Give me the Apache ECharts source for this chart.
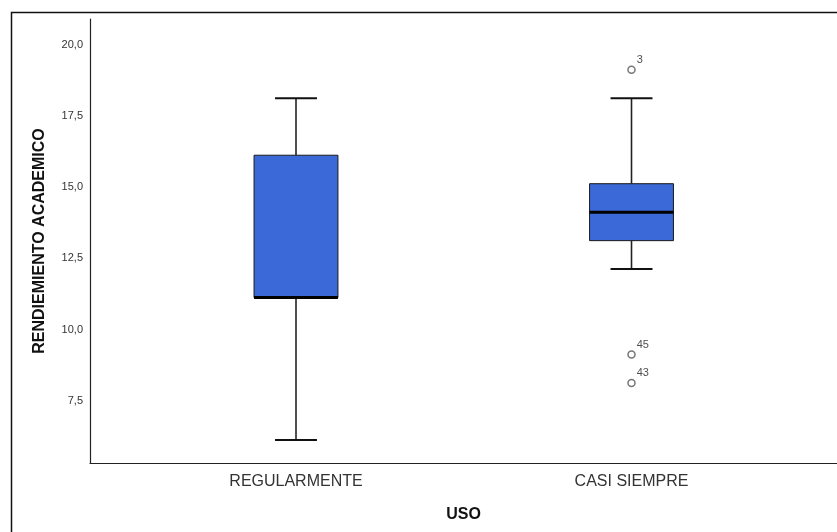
<!DOCTYPE html>
<html>
<head>
<meta charset="utf-8">
<script src="https://cdn.jsdelivr.net/npm/echarts@6/dist/echarts.min.js"></script>
<style>html,body{margin:0;padding:0;background:#fff}#c{width:837px;height:532px}</style>
</head>
<body>
<div id="c"></div>
<script>
// ---- data ----
var categories = ['REGULARMENTE', 'CASI SIEMPRE'];
var positions = [1, 2];
var whiskerLow = [6, 12];
var q1 = [11, 13];
var median = [11, 14];
var q3 = [16, 15];
var whiskerHigh = [18, 18];
var outlierCat = [2, 2, 2];
var outlierVal = [19, 9, 8];
var outlierId = ['3', '45', '43'];
var yTicks = [7.5, 10, 12.5, 15, 17.5, 20];

var FONT = 'Arial, "Liberation Sans", sans-serif';
var boxRows = positions.map(function (p, i) {
  return [p, whiskerLow[i], q1[i], median[i], q3[i], whiskerHigh[i]];
});
var outRows = outlierVal.map(function (v, i) { return [outlierCat[i], v, outlierId[i]]; });

var BOX_HALF = 0.125, CAP_HALF = 0.0625;

function renderBox(params, api) {
  var x = api.value(0);
  var lo = api.coord([x, api.value(1)]);
  var b1 = api.coord([x, api.value(2)]);
  var md = api.coord([x, api.value(3)]);
  var b3 = api.coord([x, api.value(4)]);
  var hi = api.coord([x, api.value(5)]);
  var left = api.coord([x - BOX_HALF, 0])[0];
  var right = api.coord([x + BOX_HALF, 0])[0];
  var cl = api.coord([x - CAP_HALF, 0])[0];
  var cr = api.coord([x + CAP_HALF, 0])[0];
  var cx = lo[0];
  var wStyle = { stroke: '#222', lineWidth: 1.6 };
  var capStyle = { stroke: '#111', lineWidth: 2 };
  return {
    type: 'group',
    children: [
      { type: 'line', shape: { x1: cx, y1: hi[1], x2: cx, y2: b3[1] }, style: wStyle },
      { type: 'line', shape: { x1: cx, y1: b1[1], x2: cx, y2: lo[1] }, style: wStyle },
      { type: 'line', shape: { x1: cl, y1: hi[1], x2: cr, y2: hi[1] }, style: capStyle },
      { type: 'line', shape: { x1: cl, y1: lo[1], x2: cr, y2: lo[1] }, style: capStyle },
      { type: 'rect', shape: { x: left, y: b3[1], width: right - left, height: b1[1] - b3[1] },
        style: { fill: '#3b69d7', stroke: '#1a1a1a', lineWidth: 1 } },
      { type: 'line', shape: { x1: left, y1: md[1], x2: right, y2: md[1] }, style: { stroke: '#000', lineWidth: 3 } }
    ]
  };
}

var chart = echarts.init(document.getElementById('c'), null, { renderer: 'canvas' });
chart.setOption({
  backgroundColor: '#fff',
  animation: false,
  graphic: [{
    type: 'rect', left: 9, top: 10, shape: { width: 900, height: 600 },
    style: { fill: 'none', stroke: '#111', lineWidth: 1.5 }, silent: true
  }],
  grid: { left: 90, right: 0, top: 19, bottom: 69 },
  xAxis: {
    type: 'value', min: 0.386, max: 2.6125,
    splitLine: { show: false },
    axisLine: { show: true, lineStyle: { color: '#222', width: 1.2 } },
    axisTick: { show: false },
    axisLabel: {
      customValues: positions,
      formatter: function (v) { return categories[Math.round(v) - 1] || ''; },
      color: '#333', fontFamily: FONT, fontSize: 16, margin: 11
    },
    name: 'USO', nameLocation: 'middle', nameGap: 44,
    nameTextStyle: { fontFamily: FONT, fontSize: 16, fontWeight: 'bold', color: '#111' }
  },
  yAxis: {
    type: 'value', min: 5.19, max: 20.785,
    splitLine: { show: false },
    axisLine: { show: true, lineStyle: { color: '#222', width: 1.2 } },
    axisTick: { show: false },
    axisLabel: {
      customValues: yTicks,
      formatter: function (v) { return '{t|' + v.toFixed(1).replace('.', ',') + '}'; },
      rich: { t: { color: '#333', fontFamily: FONT, fontSize: 11, padding: [7, 0, 0, 0] } },
      color: '#333', fontFamily: FONT, fontSize: 11, margin: 7
    },
    name: 'RENDIEMIENTO ACADEMICO', nameLocation: 'middle', nameGap: 42,
    nameTextStyle: { fontFamily: FONT, fontSize: 16, fontWeight: 'bold', color: '#111' }
  },
  series: [
    {
      type: 'custom', renderItem: renderBox, data: boxRows,
      encode: { x: 0, y: [1, 2, 3, 4, 5] }, silent: true
    },
    {
      type: 'scatter', data: outRows, symbol: 'circle', symbolSize: 7,
      itemStyle: { color: '#fff', borderColor: '#555', borderWidth: 1.5 },
      label: {
        show: true, position: 'right', distance: 1, offset: [0, -10],
        formatter: function (p) { return p.value[2]; },
        color: '#222', fontFamily: FONT, fontSize: 11
      },
      silent: true
    }
  ]
});
</script>
</body>
</html>
